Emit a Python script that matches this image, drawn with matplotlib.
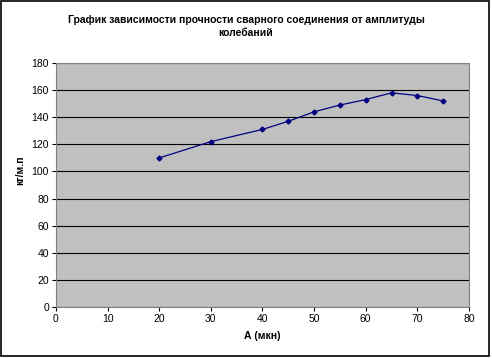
import matplotlib
matplotlib.use("Agg")
import matplotlib.pyplot as plt
from matplotlib.patches import Rectangle

plt.rcParams['font.family'] = ['Liberation Sans', 'DejaVu Sans']

x_vals = [20, 30, 40, 45, 50, 55, 60, 65, 70, 75]
y_vals = [110, 122, 131, 137, 144, 149, 153, 158, 156, 152]
x_ticks = [0, 10, 20, 30, 40, 50, 60, 70, 80]
y_ticks = [0, 20, 40, 60, 80, 100, 120, 140, 160, 180]
title = "График зависимости прочности сварного соединения от амплитуды\nколебаний"
xlabel = "А (мкн)"
ylabel = "кг/м.п"

fig = plt.figure(figsize=(4.92, 3.58), dpi=100)
fig.patch.set_facecolor('white')
fig.add_artist(Rectangle((0.002, 0.006), 0.992, 0.99, transform=fig.transFigure,
                         fill=False, edgecolor='black', linewidth=1.2))

ax = fig.add_axes([0.1138, 0.1425, 0.8394, 0.6815])
ax.set_facecolor('#C0C0C0')
ax.plot(x_vals, y_vals, color='#000080', linewidth=0.9, marker='D', markersize=2.5)
ax.set_xlim(0, 80)
ax.set_ylim(0, 180)
ax.set_xticks(x_ticks)
ax.set_yticks(y_ticks)
ax.tick_params(labelsize=7.5, direction='out', length=3, width=0.8, pad=2)
ax.grid(axis='y', color='black', linewidth=0.8)
ax.set_axisbelow(True)
for s in ['top', 'right', 'left', 'bottom']:
    ax.spines[s].set_color('#808080')
ax.set_xlabel(xlabel, fontsize=7.5, fontweight='bold')
ax.set_ylabel(ylabel, fontsize=7.5, fontweight='bold')
ax.xaxis.set_label_coords(0.5, -0.10)
ax.yaxis.set_label_coords(-0.075, 0.561)
fig.text(0.5, 0.926, title, ha='center', va='center', fontsize=7.5,
         fontweight='bold', linespacing=1.35)

fig.savefig("out.png", dpi=100)
